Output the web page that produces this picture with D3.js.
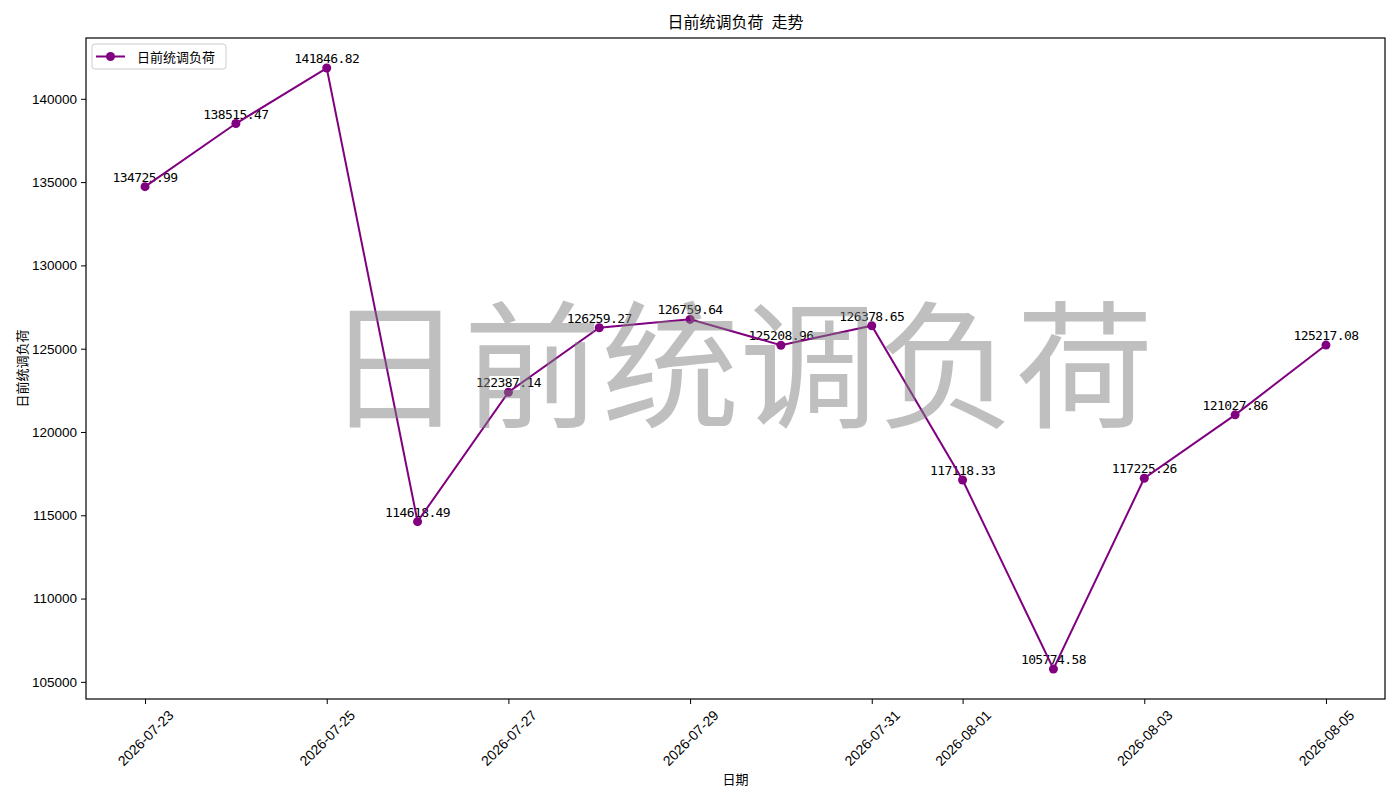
<!DOCTYPE html>
<html>
<head>
<meta charset="utf-8">
<script src="https://cdn.jsdelivr.net/npm/d3@7"></script>
<style>
  body { margin: 0; background: #fff; }
  svg { display: block; font-family: "Noto Sans CJK SC", sans-serif; }
</style>
</head>
<body>
<svg width="1400" height="800"></svg>
<script>
// chart data
const dates = [
  "2026-07-23", "2026-07-24", "2026-07-25", "2026-07-26", "2026-07-27",
  "2026-07-28", "2026-07-29", "2026-07-30", "2026-07-31", "2026-08-01",
  "2026-08-02", "2026-08-03", "2026-08-04", "2026-08-05"
];
const loads = [
  134725.99, 138515.47, 141846.82, 114618.49, 122387.14,
  126259.27, 126759.64, 125208.96, 126378.65, 117118.33,
  105774.58, 117225.26, 121027.86, 125217.08
];
const xTickLabels = [
  "2026-07-23", "2026-07-25", "2026-07-27", "2026-07-29",
  "2026-07-31", "2026-08-01", "2026-08-03", "2026-08-05"
];
const yTicks = [105000, 110000, 115000, 120000, 125000, 130000, 135000, 140000];

const TITLE = "日前统调负荷\u2002走势";
const SERIES = "日前统调负荷";
const COLOR = "purple";

const margin = { left: 86, right: 15, top: 38, bottom: 101 };
const W = 1400, H = 800;
const iw = W - margin.left - margin.right;
const ih = H - margin.top - margin.bottom;

const parse = d3.utcParse("%Y-%m-%d");
const data = dates.map((d, i) => ({ date: parse(d), value: loads[i] }));

// matplotlib-like 5% padding on both axes
const xExt = d3.extent(data, d => d.date);
const xPad = (xExt[1] - xExt[0]) * 0.05;
const x = d3.scaleUtc()
  .domain([new Date(+xExt[0] - xPad), new Date(+xExt[1] + xPad)])
  .range([0, iw]);

const yExt = d3.extent(loads);
const yPad = (yExt[1] - yExt[0]) * 0.05;
const y = d3.scaleLinear()
  .domain([yExt[0] - yPad, yExt[1] + yPad])
  .range([ih, 0]);

const svg = d3.select("svg");
const g = svg.append("g").attr("transform", `translate(${margin.left},${margin.top})`);

// axes
const xAxis = g.append("g")
  .attr("transform", `translate(0,${ih})`)
  .call(d3.axisBottom(x).tickValues(xTickLabels.map(parse)).tickSize(5).tickFormat(""));
xAxis.select(".domain").remove();
xAxis.selectAll("line").attr("stroke", "#000");
xAxis.selectAll(".tick")
  .append("text")
  .attr("fill", "#000")
  .attr("font-size", 14)
  .attr("font-family", "'Liberation Sans', sans-serif")
  .attr("text-anchor", "middle")
  .attr("dominant-baseline", "central")
  .attr("transform", "translate(0,39) rotate(-45)")
  .text(d => d3.utcFormat("%Y-%m-%d")(d));

const yAxis = g.append("g")
  .call(d3.axisLeft(y).tickValues(yTicks).tickSize(5).tickPadding(4).tickFormat(d3.format("d")));
yAxis.select(".domain").remove();
yAxis.selectAll("line").attr("stroke", "#000");
yAxis.selectAll("text").attr("font-size", 13.5).attr("fill", "#000")
  .attr("font-family", "'Liberation Sans', sans-serif");

// annotations (below the line)
g.append("g")
  .selectAll("text")
  .data(data)
  .join("text")
  .attr("x", d => x(d.date))
  .attr("y", d => y(d.value) - 5)
  .attr("text-anchor", "middle")
  .attr("font-size", 13)
  .attr("font-family", "'DejaVu Sans Mono', monospace")
  .attr("letter-spacing", -0.6)
  .text(d => d.value.toFixed(2));

// line and markers
const line = d3.line().x(d => x(d.date)).y(d => y(d.value));
g.append("path")
  .datum(data)
  .attr("fill", "none")
  .attr("stroke", COLOR)
  .attr("stroke-width", 2)
  .attr("d", line);

g.append("g")
  .selectAll("circle")
  .data(data)
  .join("circle")
  .attr("cx", d => x(d.date))
  .attr("cy", d => y(d.value))
  .attr("r", 4.5)
  .attr("fill", COLOR);

// frame
g.append("rect")
  .attr("width", iw).attr("height", ih)
  .attr("fill", "none").attr("stroke", "#000").attr("stroke-width", 1.2);

// legend
const lg = g.append("g").attr("transform", "translate(6,6)");
lg.append("rect")
  .attr("width", 134).attr("height", 25).attr("rx", 3)
  .attr("fill", "#fff").attr("fill-opacity", 0.8)
  .attr("stroke", "#ccc");
lg.append("line").attr("x1", 4).attr("x2", 33).attr("y1", 12.5).attr("y2", 12.5)
  .attr("stroke", COLOR).attr("stroke-width", 2);
lg.append("circle").attr("cx", 18.5).attr("cy", 12.5).attr("r", 4.5).attr("fill", COLOR);
lg.append("text").attr("x", 45).attr("y", 12.5).attr("dominant-baseline", "central")
  .attr("font-size", 13).text(SERIES);

// watermark on top
g.append("text")
  .attr("x", iw / 2 + 4).attr("y", ih / 2 - 12)
  .attr("text-anchor", "middle")
  .attr("dominant-baseline", "central")
  .attr("font-size", 138)
  .attr("fill", "gray").attr("fill-opacity", 0.5)
  .text(SERIES);

// title and axis labels
svg.append("text")
  .attr("x", margin.left + iw / 2).attr("y", 28)
  .attr("text-anchor", "middle").attr("font-size", 16).text(TITLE);

svg.append("text")
  .attr("x", margin.left + iw / 2).attr("y", 784)
  .attr("text-anchor", "middle").attr("font-size", 13).text("日期");

svg.append("text")
  .attr("transform", `translate(27,${margin.top + ih / 2}) rotate(-90)`)
  .attr("text-anchor", "middle").attr("font-size", 13).text(SERIES);
</script>
</body>
</html>
